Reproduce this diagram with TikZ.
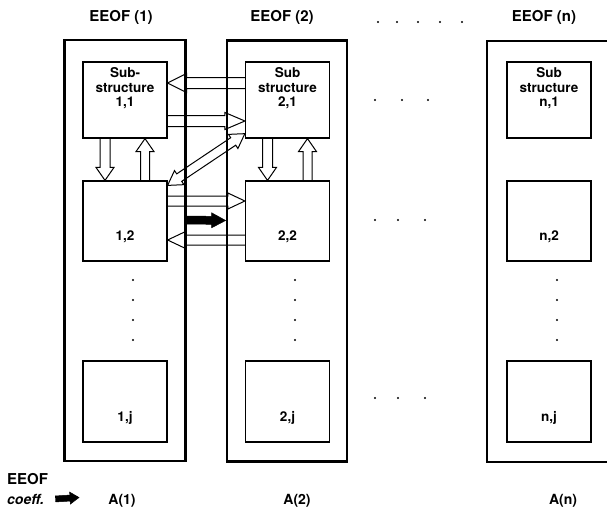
\documentclass[tikz,border=0pt]{standalone}
\usepackage{fontspec}
\setmainfont{TeX Gyre Heros}
\usetikzlibrary{calc,positioning}

% outline arrow: [style]{from}{to}{shaft half width}{head half width}{head length}
\newcommand{\flowarrow}[6][]{%
  \draw[#1] let \p1=#2, \p2=#3, \n1={atan2(\y2-\y1,\x2-\x1)}, \n2={veclen(\x2-\x1,\y2-\y1)} in
    [shift={(\p1)}, rotate=\n1]
    (0,#4) -- ({\n2-#6},#4) -- ({\n2-#6},#5) -- (\n2,0) -- ({\n2-#6},-#5) -- ({\n2-#6},-#4) -- (0,-#4);}
% same, with a head at both ends
\newcommand{\swaparrow}[6][]{%
  \draw[#1] let \p1=#2, \p2=#3, \n1={atan2(\y2-\y1,\x2-\x1)}, \n2={veclen(\x2-\x1,\y2-\y1)} in
    [shift={(\p1)}, rotate=\n1]
    (#6,#4) -- ({\n2-#6},#4) -- ({\n2-#6},#5) -- (\n2,0) -- ({\n2-#6},-#5) -- ({\n2-#6},-#4)
    -- (#6,-#4) -- (#6,-#5) -- (0,0) -- (#6,#5) -- cycle;}

\begin{document}
\begin{tikzpicture}[
    x=1pt, y=-1pt,
    column/.style={draw, line width=2.8pt, minimum width=121pt, minimum height=421pt, inner sep=0pt},
    cell/.style={draw, line width=1.2pt, minimum width=84pt, minimum height=80pt, inner sep=0pt},
    celltext/.style={font=\fontsize{13.5}{14.5}\selectfont\bfseries, align=center, inner sep=2pt},
    head/.style={font=\fontsize{15}{16}\selectfont\bfseries, inner sep=0pt},
    foot/.style={font=\fontsize{14}{16}\selectfont\bfseries, inner sep=0pt},
    flow/.style={line width=1pt, line join=miter},
    blackarrow/.style={fill=black, line width=0.5pt, line join=miter}
  ]
    \useasboundingbox (0,0) rectangle (607,509);

    \node[head] (t1) at (121,17) {EEOF (1)};
    \node[head] (t2) at (282,17) {EEOF (2)};
    \node[head] (tn) at (544,17) {EEOF (n)};

    \node[column] (eeof1) at (125,250.5) {};
    \node[column, minimum width=120pt] (eeof2) at (287,251) {};
    \node[column, minimum width=140pt] (eeofn) at (557,251.5) {};

    \node[cell, minimum height=76pt, label={[celltext, anchor=north, yshift=-4pt]north:{Sub-\\structure\\1,1}}] (s11) at (125,100) {};
    \node[cell, label={[celltext, yshift=-16pt]center:{1,2}}] (s12) at (125,221) {};
    \node[cell, minimum height=81pt, label={[celltext, yshift=-16pt]center:{1,j}}] (s1j) at (125,401.5) {};

    \node[cell, minimum height=76pt, label={[celltext, anchor=north, yshift=-4pt]north:{Sub\\structure\\2,1}}] (s21) at (287.5,100) {};
    \node[cell, label={[celltext, yshift=-16pt]center:{2,2}}] (s22) at (287.5,221) {};
    \node[cell, minimum height=81pt, label={[celltext, yshift=-16pt]center:{2,j}}] (s2j) at (287.5,401.5) {};

    \node[cell, minimum height=76pt, label={[celltext, anchor=north, yshift=-4pt]north:{Sub\\structure\\n,1}}] (sn1) at (549,100) {};
    \node[cell, label={[celltext, yshift=-16pt]center:{n,2}}] (sn2) at (549,221) {};
    \node[cell, minimum height=81pt, label={[celltext, yshift=-16pt]center:{n,j}}] (snj) at (549,401.5) {};

    \node[head, anchor=west] (eeofword) at (7,479.5) {EEOF};
    \node[foot, anchor=base west, font=\fontsize{14}{16}\selectfont\bfseries\itshape] (coeff) at (7,504) {coeff.};
    \coordinate (cofftip) at (79,497.5);
    \node[foot, anchor=base] (a1) at (122,504) {A(1)};
    \node[foot, anchor=base] (a2) at (297,504) {A(2)};
    \node[foot, anchor=base] (an) at (563,504) {A(n)};

    % dots
    \foreach \px in {378,397,418,440,462} \fill (\px,22) circle (1.2pt);
    \foreach \px in {375,402,428} \fill (\px,100) circle (1.2pt);
    \foreach \px in {375,398,425} \fill (\px,220) circle (1.2pt);
    \foreach \px in {375,398,425} \fill (\px,398) circle (1.2pt);
    \foreach \px in {133,295,557} \foreach \py in {280,300,320,340} \fill (\px,\py) circle (1.2pt);

    % inside the columns
    \flowarrow[flow]{([xshift=-20]s11.south)}{([xshift=-20]s12.north)}{5}{9}{13}
    \flowarrow[flow]{([xshift=20]s12.north)}{([xshift=20]s11.south)}{4.5}{9}{13}
    \flowarrow[flow]{([xshift=-20]s21.south)}{([xshift=-20]s22.north)}{5}{9}{13}
    \flowarrow[flow]{([xshift=20]s22.north)}{([xshift=20]s21.south)}{4.5}{9}{13}

    % between the columns
    \flowarrow[flow]{([yshift=17]s21.west)}{([yshift=17]s11.east)}{5.5}{9.5}{19}
    \flowarrow[flow]{([yshift=-21]s11.east)}{([yshift=-21]s21.west)}{5.5}{8.5}{20}
    \swaparrow[flow]{([yshift=-5]s12.north east)}{([yshift=5]s21.south west)}{4.5}{8.5}{14}
    \flowarrow[flow]{([yshift=20]s12.east)}{([yshift=20]s22.west)}{5}{8}{17}
    \flowarrow[flow]{([yshift=-19]s22.west)}{([yshift=-19]s12.east)}{5}{8.5}{18}
    \flowarrow[blackarrow]{([yshift=30.5]eeof1.east)}{([yshift=30.5]eeof2.west)}{4}{7.5}{14}
    \flowarrow[blackarrow]{([xshift=11]coeff.east)}{(cofftip)}{3}{6}{9}
\end{tikzpicture}
\end{document}
